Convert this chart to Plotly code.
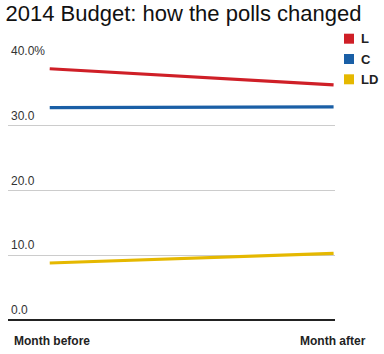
import plotly.graph_objects as go

categories = ["Month before", "Month after"]
parties = ["L", "C", "LD"]
values = {
    "L": [38.8, 36.3],
    "C": [32.8, 32.9],
    "LD": [8.8, 10.3],
}
colors = {"L": "#cf1f27", "C": "#1a5fa6", "LD": "#e5b800"}
y_ticks = [0, 10, 20, 30, 40]
y_tick_labels = ["0.0", "10.0", "20.0", "30.0", "40.0%"]

FONT = "Liberation Sans, Arial, Helvetica, sans-serif"

W, H = 384, 354
ML, MR, MT, MB = 8, 49, 61, 34
PLOT_H = H - MT - MB


def paper_y(px):
    return (H - MB - px) / PLOT_H


fig = go.Figure()
xpos = list(range(len(categories)))
for p in parties:
    fig.add_trace(go.Scatter(
        x=xpos, y=values[p], mode="lines", name=p,
        line=dict(color=colors[p], width=3.2), showlegend=False,
        hoverinfo="skip"))

annotations = []
shapes = []
for v, lab in zip(y_ticks, y_tick_labels):
    annotations.append(dict(
        x=0, xref="paper", y=v, yref="y", text=lab, showarrow=False,
        xanchor="left", yanchor="bottom", xshift=1, yshift=1,
        font=dict(family=FONT, size=12, color="#333333")))
annotations.append(dict(
    x=0, xref="paper", y=0, yref="paper", text="<b>" + categories[0] + "</b>",
    showarrow=False, xanchor="left", yanchor="top", xshift=4, yshift=-12,
    font=dict(family=FONT, size=12, color="#222222")))
annotations.append(dict(
    x=1, xref="paper", y=0, yref="paper", text="<b>" + categories[1] + "</b>",
    showarrow=False, xanchor="right", yanchor="top", xshift=33, yshift=-12,
    font=dict(family=FONT, size=12, color="#222222")))

# legend (key) on the right
for i, p in enumerate(parties):
    yc = paper_y(38.7 + 20.3 * i)
    shapes.append(dict(
        type="rect", xref="paper", yref="paper",
        xsizemode="pixel", ysizemode="pixel",
        xanchor=1, yanchor=yc, x0=9, x1=19, y0=-5, y1=5,
        fillcolor=colors[p], line=dict(width=0)))
    annotations.append(dict(
        x=1, xref="paper", y=yc, yref="paper", text="<b>" + p + "</b>",
        showarrow=False, xanchor="left", yanchor="middle", xshift=24,
        font=dict(family=FONT, size=13, color="#222222")))

fig.update_layout(
    width=W, height=H,
    margin=dict(l=ML, r=MR, t=MT, b=MB),
    paper_bgcolor="white", plot_bgcolor="white",
    title=dict(text="2014 Budget: how the polls changed", x=5.5 / W,
               xref="container", xanchor="left", y=0.985, yanchor="top",
               font=dict(family=FONT, size=22, color="#111111")),
    xaxis=dict(range=[-0.147, 1.005], showgrid=False, zeroline=False,
               showticklabels=False, showline=False, fixedrange=True),
    yaxis=dict(range=[0, 40], tickvals=y_ticks, showticklabels=False,
               showgrid=True, gridcolor="#cccccc", gridwidth=1,
               zeroline=True, zerolinecolor="#222222", zerolinewidth=1.5,
               showline=False, fixedrange=True),
    annotations=annotations,
    shapes=shapes,
    showlegend=False,
)
fig.write_html("out.html")
